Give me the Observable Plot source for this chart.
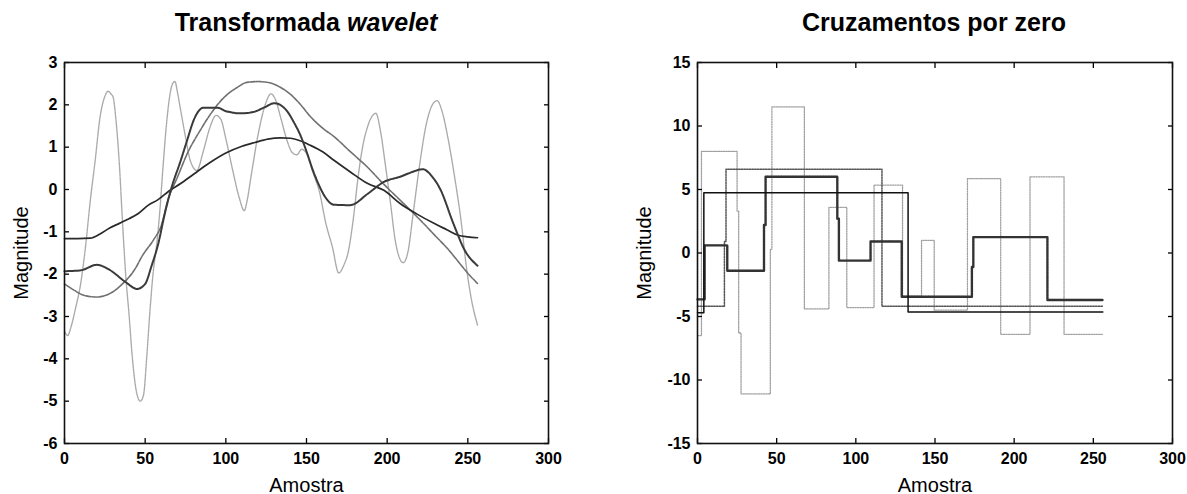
<!DOCTYPE html>
<html>
<head>
<meta charset="utf-8">
<script src="https://cdn.jsdelivr.net/npm/d3@7"></script>
<script src="https://cdn.jsdelivr.net/npm/@observablehq/plot@0.6"></script>
<style>
html,body{margin:0;padding:0;background:#fff;}
#root{position:relative;width:1187px;height:494px;overflow:hidden;font-family:"Liberation Sans",Arial,sans-serif;}
.panel{position:absolute;top:0;height:494px;}
.title{position:absolute;top:10px;font-size:25px;font-weight:bold;line-height:25px;white-space:nowrap;transform:translateX(-50%);color:#000;}
.chart{position:absolute;top:40px;left:0;}
</style>
</head>
<body>
<div id="root">
  <div class="panel" style="left:0;width:594px;"><div class="title" style="left:306px">Transformada <i>wavelet</i></div><div class="chart" id="cL"></div></div>
  <div class="panel" style="left:594px;width:593px;"><div class="title" style="left:340px">Cruzamentos por zero</div><div class="chart" id="cR"></div></div>
</div>
<script>
// ---- tick labels ----
const xTicks = [0, 50, 100, 150, 200, 250, 300];
const yTicksWavelet = [-6, -5, -4, -3, -2, -1, 0, 1, 2, 3];
const yTicksZero = [-15, -10, -5, 0, 5, 10, 15];
const xLabel = "Amostra";
const yLabel = "Magnitude";

// ---- Transformada wavelet: 4 series ----
const wA_x = [0, 8, 16, 22, 28, 34, 40, 46, 52, 58, 65, 72, 80, 90, 100, 110, 118, 126, 134, 140, 146, 152, 160, 167, 177, 188, 198, 208, 218, 229, 237, 244, 250, 256];
const wA_y = [-1.16, -1.16, -1.15, -1.05, -0.91, -0.8, -0.69, -0.56, -0.37, -0.24, -0.03, 0.14, 0.36, 0.63, 0.86, 1.02, 1.11, 1.19, 1.22, 1.21, 1.15, 1.05, 0.89, 0.69, 0.42, 0.14, -0.02, -0.33, -0.57, -0.8, -0.95, -1.08, -1.12, -1.14];

const wB_x = [0, 10, 20, 28, 38, 45, 50, 54, 58, 62, 66, 72, 76, 80, 86, 95, 100, 110, 117, 124, 130, 138, 142, 146, 150, 154, 158, 162, 167, 177, 188, 198, 208, 216, 222, 228, 233, 241, 248, 256];
const wB_y = [-1.93, -1.91, -1.78, -1.9, -2.19, -2.35, -2.23, -1.8, -1.3, -0.6, 0, 0.68, 1.16, 1.63, 1.93, 1.93, 1.85, 1.8, 1.83, 1.94, 2.04, 1.85, 1.6, 1.3, 0.9, 0.45, 0.08, -0.2, -0.36, -0.37, -0.1, 0.18, 0.3, 0.42, 0.48, 0.3, 0, -0.8, -1.43, -1.8];

const wC_x = [0, 6, 12, 20, 28, 37, 43, 49, 55, 60, 64, 70, 76, 84, 92, 99, 107, 113, 120, 126, 134, 142, 146, 152, 160, 167, 177, 188, 198, 208, 216, 222, 230, 238, 244, 250, 256];
const wC_y = [-2.23, -2.38, -2.5, -2.54, -2.46, -2.19, -1.92, -1.52, -1.2, -0.85, -0.26, 0.29, 0.84, 1.39, 1.86, 2.18, 2.41, 2.53, 2.55, 2.53, 2.41, 2.18, 2.02, 1.74, 1.45, 1.25, 0.9, 0.52, 0.12, -0.25, -0.55, -0.78, -1.1, -1.42, -1.7, -1.98, -2.22];

const wE_x = [0, 2, 4, 7, 10, 13, 16, 19, 22, 25, 27, 29, 30, 32, 34, 36, 38, 40, 42, 45, 47, 49, 51, 53, 55, 57, 59, 61, 63, 65, 67, 68.5, 70, 72, 75, 78, 82, 86, 90, 94, 97, 100, 104, 108, 111.5, 113, 116, 120, 124, 128, 131, 134, 138, 141, 144, 147, 150, 154, 158, 162, 166, 170, 173, 176, 179, 182, 185, 188, 191, 193, 196, 199, 202, 205, 208, 210, 213, 216, 220, 224, 228, 231, 234, 238, 242, 246, 249, 252, 256];
const wE_y = [-3.35, -3.45, -3.25, -2.78, -2.23, -1.36, -0.26, 0.68, 1.7, 2.2, 2.32, 2.25, 2.2, 1.6, 0.6, -0.8, -2.05, -2.95, -3.95, -4.85, -5.0, -4.85, -3.95, -2.85, -1.95, -1.35, -0.55, 0.5, 1.45, 2.15, 2.5, 2.55, 2.3, 1.87, 1.24, 0.68, 0.45, 0.9, 1.45, 1.75, 1.65, 1.2, 0.5, -0.15, -0.5, -0.3, 0.4, 1.3, 1.95, 2.26, 2.1, 1.7, 1.15, 0.88, 0.82, 0.95, 0.85, 0.4, -0.05, -0.8, -1.35, -1.97, -1.8, -1.45, -0.7, 0.3, 1.05, 1.5, 1.75, 1.8, 1.35, 0.55, -0.3, -1.2, -1.65, -1.73, -1.45, -0.6, 0.55, 1.5, 2.0, 2.1, 1.85, 1.15, 0.25, -0.8, -1.8, -2.55, -3.2];

// ---- Cruzamentos por zero: 4 step series ----
const z1_x = [0, 4, 133, 256];
const z1_y = [-4.7, 4.75, -4.65, -4.65];

const z2_x = [0, 4.5, 18.8, 42, 43, 88.3, 89.3, 109.3, 129, 173.3, 174.2, 221, 256];
const z2_y = [-3.65, 0.6, -1.4, 2.2, 6.0, 2.7, -0.6, 0.9, -3.45, -1.1, 1.25, -3.7, -3.7];

const z3_x = [0, 17, 18, 116.5, 256];
const z3_y = [-4.2, 0.9, 6.6, -4.2, -4.2];

const z4_x = [0, 2.5, 25, 26, 27.5, 46, 47, 67.5, 83, 94.3, 111.5, 129.5, 141.5, 149.5, 170.5, 191.5, 210, 231.5, 256];
const z4_y = [-6.5, 8.0, 3.3, -6.3, -11.1, 0.3, 11.5, -4.4, 3.6, -4.3, 5.35, -3.4, 1.0, -4.5, 5.85, -6.4, 6.0, -6.4, -6.4];

function pts(xs, ys) { return xs.map((x, i) => ({x, y: ys[i]})); }
const fmt = d => String(d);

function axesMarks(yTicks, yLabelDx) {
  return [
    Plot.axisX({anchor: "bottom", ticks: xTicks, tickFormat: fmt, tickSize: -5, tickPadding: 14, strokeWidth: 1.3, fontSize: 16, fontWeight: "bold", label: null}),
    Plot.axisX({anchor: "top", ticks: xTicks, tickSize: -5, strokeWidth: 1.3, tickFormat: () => "", label: null}),
    Plot.axisY({anchor: "left", ticks: yTicks, tickFormat: fmt, tickSize: -5, tickPadding: 12, strokeWidth: 1.3, fontSize: 16, fontWeight: "bold", label: null}),
    Plot.axisY({anchor: "right", ticks: yTicks, tickSize: -5, strokeWidth: 1.3, tickFormat: () => "", label: null}),
    Plot.frame({stroke: "#111", strokeWidth: 1.6}),
    Plot.text([xLabel], {frameAnchor: "bottom", dy: 48, fontSize: 20, fill: "#000", textAnchor: "middle"}),
    Plot.text([yLabel], {frameAnchor: "left", dx: yLabelDx, rotate: -90, fontSize: 20, fill: "#000", textAnchor: "middle", lineAnchor: "middle"})
  ];
}

const style = {fontFamily: "'Liberation Sans', Arial, sans-serif", color: "#000", background: "#fff", overflow: "visible"};

const left = Plot.plot({
  width: 594, height: 454,
  marginLeft: 64, marginRight: 46, marginTop: 22, marginBottom: 51,
  x: {domain: [0, 300]},
  y: {domain: [-6, 3]},
  style,
  marks: [
    Plot.line(pts(wE_x, wE_y), {x: "x", y: "y", stroke: "#aaa", strokeWidth: 1.4, strokeDasharray: "1.5,1", curve: "monotone-x"}),
    Plot.line(pts(wC_x, wC_y), {x: "x", y: "y", stroke: "#707070", strokeWidth: 1.6, strokeDasharray: "5,1.2", curve: "monotone-x"}),
    Plot.line(pts(wA_x, wA_y), {x: "x", y: "y", stroke: "#2a2a2a", strokeWidth: 1.7, curve: "monotone-x"}),
    Plot.line(pts(wB_x, wB_y), {x: "x", y: "y", stroke: "#3a3a3a", strokeWidth: 2, strokeDasharray: "2.5,0.7", curve: "monotone-x"}),
    ...axesMarks(yTicksWavelet, -43)
  ]
});
document.getElementById("cL").append(left);

const right = Plot.plot({
  width: 593, height: 454,
  marginLeft: 103, marginRight: 15, marginTop: 22, marginBottom: 51,
  x: {domain: [0, 300]},
  y: {domain: [-15, 15]},
  style,
  marks: [
    Plot.line(pts(z4_x, z4_y), {x: "x", y: "y", stroke: "#a0a0a0", strokeWidth: 1.3, strokeDasharray: "1.3,1.2", curve: "step-after"}),
    Plot.line(pts(z3_x, z3_y), {x: "x", y: "y", stroke: "#555", strokeWidth: 1.5, strokeDasharray: "1.5,1.2", curve: "step-after"}),
    Plot.line(pts(z2_x, z2_y), {x: "x", y: "y", stroke: "#333", strokeWidth: 2.4, strokeDasharray: "2.2,0.6", curve: "step-after"}),
    Plot.line(pts(z1_x, z1_y), {x: "x", y: "y", stroke: "#111", strokeWidth: 1.5, curve: "step-after"}),
    ...axesMarks(yTicksZero, -53)
  ]
});
document.getElementById("cR").append(right);
</script>
</body>
</html>
